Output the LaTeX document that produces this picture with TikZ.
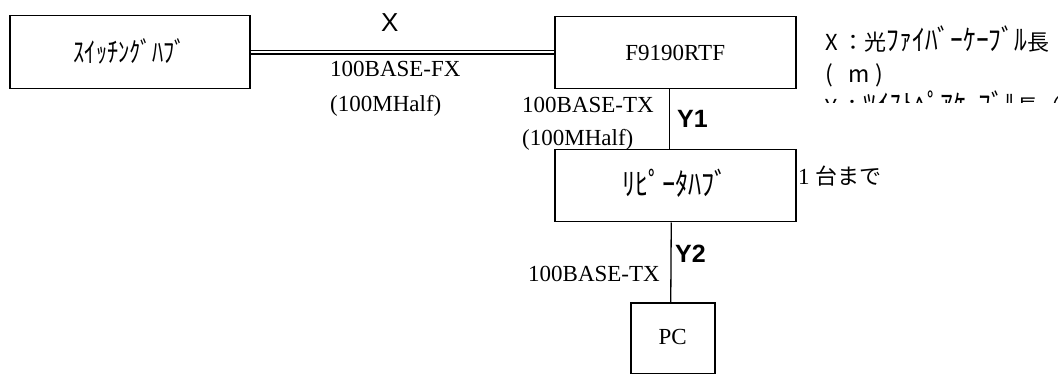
\documentclass[tikz,border=0pt]{standalone}
\usepackage{graphicx}
\usepackage{fontspec}
\setmainfont{Liberation Serif}
\newfontfamily\jpfont{Noto Sans CJK JP}
\newfontfamily\arialfont{Liberation Sans}
\newcommand{\hw}[1]{{\fontsize{29}{29}\selectfont\scalebox{0.88}[1]{#1}}}
\begin{document}
\begin{tikzpicture}[x=1pt,y=-1pt,
  box/.style={draw, line width=1.5pt, rectangle, inner sep=0pt, anchor=north west},
  jpbox/.style={box, font=\jpfont\fontsize{28}{28}\selectfont},
  serifbox/.style={box, font=\fontsize{23}{23}\selectfont},
  serif/.style={font=\fontsize{23}{23}\selectfont, inner sep=0pt, anchor=base west},
  jptext/.style={font=\jpfont\fontsize{22}{22}\selectfont, inner sep=0pt, anchor=base west},
  sanslabel/.style={font=\arialfont\fontsize{26}{26}\selectfont, inner sep=0pt, anchor=base west},
  wire/.style={line width=1.3pt}
]
\useasboundingbox (0,0) rectangle (1058,374);

% boxes
\node[jpbox, minimum width=240pt, minimum height=73pt] (sw) at (9,15) {\raisebox{3pt}{\scalebox{0.8}[1]{ｽｲｯﾁﾝｸﾞﾊﾌﾞ}}};
\node[serifbox, minimum width=241pt, minimum height=72pt] (f) at (554,16) {F9190RTF};
\node[jpbox, font=\jpfont\fontsize{31}{31}\selectfont, minimum width=241pt, minimum height=72pt] (rep) at (554,149) {\raisebox{6pt}{\scalebox{0.85}[1]{ﾘﾋﾟｰﾀﾊﾌﾞ}}};
\node[serifbox, minimum width=84pt, minimum height=71pt] (pc) at (630,302) {\raisebox{3pt}{PC}};

% connectors
\draw[double, double distance=2.2pt, line width=1.6pt] (sw.east) -- (sw.east -| f.west);
\draw[wire] ([xshift=-6pt]f.south) -- ([xshift=-6pt]rep.north);
\draw[wire] ([xshift=-4pt]rep.south) -- ([xshift=-2pt]pc.north);

% labels
\node[sanslabel] (lx) at (381,32) {X};
\node[serif] (fx1) at (330,77) {100BASE-FX};
\node[serif] (fx2) at (330,112) {(100MHalf)};
\node[serif] (tx1) at (522,113) {100BASE-TX};
\node[serif] (tx2) at (522,146) {(100MHalf)};
\node[sanslabel, font=\arialfont\bfseries\fontsize{25}{25}\selectfont] (ly1) at (677,128) {Y1};
\node[sanslabel, font=\arialfont\bfseries\fontsize{25}{25}\selectfont] (ly2) at (675,262) {Y2};
\node[serif] (tx3) at (528,282) {100BASE-TX};
\node[inner sep=0pt, anchor=base west] (cnt) at (798,185) {\fontsize{23}{23}\selectfont 1 \jpfont\fontsize{22}{22}\selectfont 台まで};

% legend
\node[jptext] (leg1) at (825,51) {X ：光\hw{ﾌｧｲﾊﾞｰｹｰﾌﾞﾙ}長};
\node[jptext, font=\jpfont\fontsize{23}{23}\selectfont] (leg2) at (825,83) {\makebox[17pt][l]{(}\makebox[33pt][c]{m}\makebox[10pt][l]{)}};
\begin{scope}
\clip (800,0) rectangle (1058,103);
\node[jptext] (leg3) at (825,116) {Y ：\hw{ﾂｲｽﾄﾍﾟｱｹｰﾌﾞﾙ}長（};
\end{scope}
\end{tikzpicture}
\end{document}
